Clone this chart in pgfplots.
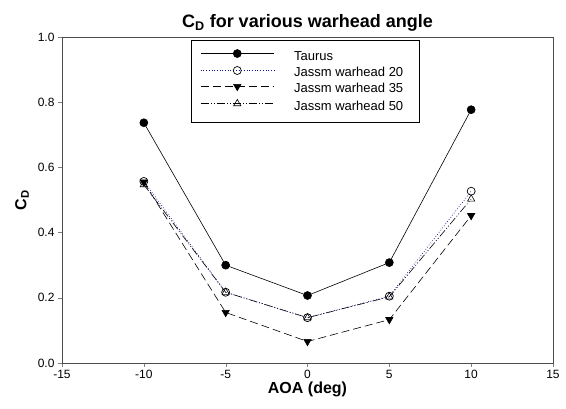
\documentclass[border=0pt]{standalone}
\usepackage{fontspec}
\setmainfont{Liberation Sans}
\usepackage{pgfplots}
\pgfplotsset{compat=1.18}
\definecolor{jblue}{HTML}{1010A0}
% legend text: gap after the sample line, fixed width so the box is as wide as the reference
\newcommand{\lentry}[1]{\makebox[136pt][l]{\hspace{20pt}#1}}

\begin{document}
\begin{tikzpicture}
\useasboundingbox (-62pt,-46pt) rectangle (504pt,363pt);
\begin{axis}[
    scale only axis,
    width=491pt, height=326pt,
    xmin=-15, xmax=15,
    ymin=0, ymax=1,
    xtick={-15,-10,...,15},
    ytick={0,0.2,...,1.0},
    yticklabel style={/pgf/number format/.cd, fixed, fixed zerofill, precision=1},
    /pgf/number format/assume math mode=true,
    tick align=outside,
    tick pos=left,
    major tick length=4pt,
    ticklabel style={font=\fontsize{12}{14}\selectfont},
    axis line style={black!70, line width=0.8pt},
    title={\textbf{C\textsubscript{D} for various warhead angle}},
    title style={font=\fontsize{18}{20}\selectfont, yshift=-4pt},
    xlabel={\textbf{AOA (deg)}},
    ylabel={\textbf{C\textsubscript{D}}},
    label style={font=\fontsize{16}{18}\selectfont},
    xlabel style={yshift=4pt},
    ylabel style={yshift=2pt},
    legend style={
        at={(0.263,0.99)}, anchor=north west,
        draw=black, line width=0.6pt,
        font=\fontsize{13}{15}\selectfont,
        inner xsep=9pt, inner ysep=9pt,
        nodes={inner sep=0pt, text height=9.5pt, text depth=3pt},
        row sep=3.5pt, column sep=0pt,
    },
    legend cell align=left,
    legend image code/.code={
        \draw[mark repeat=2, mark phase=2, #1] plot coordinates {(0pt,3.2pt) (36.5pt,3.2pt) (73pt,3.2pt)};
    },
]
\addplot[black, line width=0.6pt, mark=*, mark size=4pt, mark options={solid, fill=black}]
    coordinates {(-10,0.737) (-5,0.300) (0,0.207) (5,0.308) (10,0.777)};
\addlegendentry{\lentry{Taurus}}

\addplot[jblue, dotted, line width=0.7pt, mark=o, mark size=4pt, mark options={solid, black, fill=white}]
    coordinates {(-10,0.557) (-5,0.217) (0,0.139) (5,0.205) (10,0.527)};
\addlegendentry{\lentry{Jassm warhead 20}}

\addplot[black, dash pattern=on 8pt off 4pt, line width=0.6pt, mark=triangle*, mark size=4.2pt, mark options={solid, fill=black, rotate=180}]
    coordinates {(-10,0.555) (-5,0.155) (0,0.066) (5,0.133) (10,0.452)};
\addlegendentry{\lentry{Jassm warhead 35}}

\addplot[black, dash pattern=on 8pt off 2pt on 1pt off 2pt on 1pt off 2pt, line width=0.6pt, mark=triangle, mark size=4.2pt, mark options={solid, fill=white}]
    coordinates {(-10,0.547) (-5,0.217) (0,0.139) (5,0.203) (10,0.503)};
\addlegendentry{\lentry{Jassm warhead 50}}
\end{axis}
\end{tikzpicture}
\end{document}
